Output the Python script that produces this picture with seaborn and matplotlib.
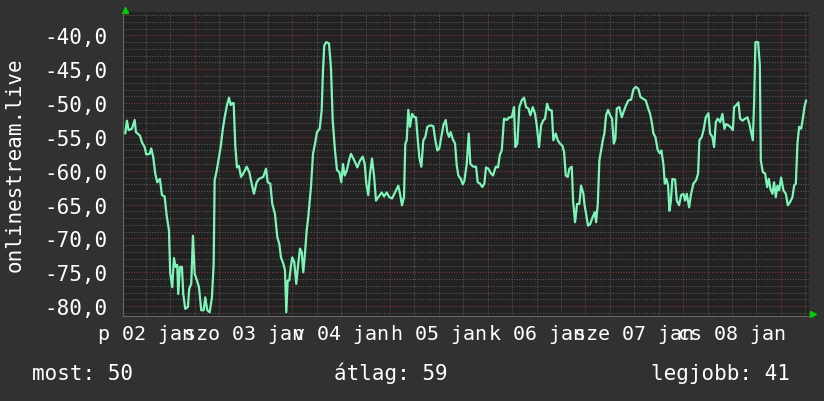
import numpy as np
import pandas as pd
import matplotlib
matplotlib.use("Agg")
import matplotlib.pyplot as plt
import seaborn as sns

# ---- data (hours since 00:00, Jan 02) ----
hours = [
    6.95, 7.37, 7.78, 8.59, 9.26, 9.58, 10.56, 11.05, 11.71, 12.11, 12.94, 13.34, 13.83, 14.32, 14.81,
    15.47, 15.97, 16.63, 17.12, 17.69, 18.00, 18.50, 18.91, 19.33, 19.72, 19.97, 20.39, 20.88, 21.20,
    21.69, 22.35, 22.67, 23.16, 23.58, 24.00, 24.57, 25.06, 25.62, 26.21, 26.60, 27.10, 27.69, 28.25,
    28.67, 28.91, 29.41, 29.97, 30.39, 30.88, 31.37, 31.94, 32.43, 32.85, 33.24, 33.58, 33.98, 34.39,
    34.88, 35.38, 35.94, 36.78, 37.42, 38.00, 38.57, 39.23, 39.80, 40.86, 41.52, 41.94, 42.58, 43.07,
    43.73, 44.30, 44.79, 45.20, 45.77, 46.19, 46.51, 46.85, 47.24, 47.66, 47.98, 48.47, 48.96, 49.45,
    49.87, 50.29, 50.68, 51.10, 51.52, 51.91, 52.57, 53.07, 53.56, 54.05, 54.71, 55.20, 55.52, 55.84,
    56.33, 57.00, 57.49, 57.91, 58.47, 58.96, 59.53, 60.02, 60.44, 60.86, 61.35, 61.91, 62.40, 62.82,
    63.39, 63.95, 64.61, 65.28, 65.77, 66.16, 66.65, 67.07, 67.56, 68.05, 68.55, 69.11, 69.95, 70.51,
    71.17, 71.81, 72.48, 73.21, 74.02, 74.44, 74.93, 75.42, 75.74, 76.09, 76.48, 76.90, 77.39, 77.96,
    78.37, 78.79, 79.18, 79.68, 80.17, 80.66, 81.15, 81.81, 82.62, 83.12, 83.61, 84.10, 84.59, 85.08,
    85.67, 86.06, 86.48, 86.90, 87.39, 87.96, 88.37, 88.77, 89.36, 89.85, 90.24, 90.83, 91.32, 91.72,
    92.45, 93.12, 93.53, 94.10, 94.66, 95.16, 95.57, 96.14, 96.80, 97.29, 97.96, 98.52, 98.94, 99.43,
    99.99, 100.66, 101.30, 101.89, 102.45, 102.77, 103.26, 103.75, 104.34, 104.91, 105.40, 105.97,
    106.46, 107.05, 107.61, 108.03, 108.59, 109.09, 109.58, 110.07, 110.56, 111.05, 111.71, 112.11,
    112.70, 113.19, 113.75, 114.32, 114.74, 115.15, 115.65, 116.04, 116.63, 116.95, 117.44, 117.93,
    118.50, 118.91, 119.48, 119.73, 120.14, 120.63, 121.13, 121.79, 122.28, 122.60, 123.02, 123.41,
    123.83, 124.25, 124.64, 125.06, 125.55, 126.04, 126.53, 126.95, 127.34, 127.69, 128.32, 128.91,
    129.48, 129.97, 130.54, 131.20, 131.76, 132.35, 132.99, 133.48, 134.22, 134.81, 135.30, 135.87,
    136.36, 136.68, 137.17, 137.76, 138.25, 138.64, 139.13, 139.48, 139.87, 140.29, 140.61, 140.95,
    141.35, 142.01, 142.43, 142.99, 143.48, 144.05, 144.47, 144.88, 145.45, 145.94, 146.51, 147.17,
    147.66, 147.98, 148.57, 149.06, 149.55, 150.19, 150.61, 151.17, 151.59, 152.01, 152.50, 153.07,
    153.63, 154.12, 154.54, 155.11, 155.70, 156.19, 156.51, 157.07, 157.56, 157.98, 158.55, 159.21,
    159.77, 160.27, 160.68, 161.10, 161.42, 161.74, 162.40, 162.82, 163.07, 163.56, 164.12, 164.61,
    165.03, 165.43, 165.92, 166.33, 166.75, 167.14, 167.56, 168.05, 168.62, 169.21, 169.70, 170.27,
    170.83, 171.25, 171.67, 172.06, 172.48, 172.97, 173.39, 173.78, 174.20,
]
values = [
    -54.5, -52.6, -54.0, -53.8, -52.5, -54.3, -54.8, -55.8, -56.5, -57.6, -57.5, -56.7, -58.0, -60.4, -61.7,
    -61.2, -63.6, -63.8, -66.6, -68.8, -75.2, -77.2, -72.9, -74.2, -73.9, -78.2, -74.2, -74.2, -78.2,
    -80.4, -80.1, -77.4, -76.7, -69.6, -75.2, -76.2, -77.2, -80.6, -80.6, -78.7, -80.6, -80.9, -78.7,
    -73.7, -61.4, -60.0, -58.0, -56.5, -54.0, -52.1, -50.3, -49.2, -50.3, -50.0, -50.0, -56.3, -59.5,
    -59.3, -60.9, -60.4, -59.4, -60.2, -61.9, -63.4, -61.7, -61.2, -60.9, -59.7, -61.7, -61.9, -64.9,
    -66.4, -69.8, -70.8, -72.8, -73.7, -74.7, -80.9, -76.2, -76.2, -74.0, -72.8, -73.5, -76.7, -73.7,
    -71.5, -72.0, -75.0, -72.2, -68.8, -66.8, -62.4, -57.5, -56.0, -54.3, -53.8, -51.1, -45.2, -41.5,
    -41.0, -41.2, -44.9, -52.6, -57.0, -59.9, -60.2, -61.7, -59.0, -60.7, -60.0, -58.5, -57.5, -58.0,
    -58.7, -59.5, -58.5, -57.9, -59.0, -61.9, -63.6, -60.4, -58.2, -60.7, -64.4, -63.9, -63.2, -63.8,
    -63.2, -63.9, -64.1, -63.2, -62.2, -63.4, -65.1, -63.9, -56.0, -55.5, -51.0, -53.5, -51.6, -52.1,
    -52.1, -55.3, -58.0, -59.4, -55.5, -55.0, -53.5, -53.3, -53.4, -55.5, -57.0, -56.7, -55.0, -53.3,
    -52.5, -54.3, -55.0, -54.3, -55.3, -56.0, -59.2, -60.7, -61.2, -62.0, -61.5, -59.0, -54.5, -59.0,
    -59.4, -59.4, -61.7, -61.9, -62.4, -61.9, -59.5, -59.7, -60.4, -60.7, -59.4, -59.5, -57.7, -57.0,
    -52.3, -52.5, -52.1, -52.1, -50.6, -56.5, -56.0, -50.6, -49.6, -49.2, -50.6, -50.8,
    -51.8, -50.6, -51.6, -53.3, -56.5, -53.3, -52.6, -52.3, -50.1, -51.0, -51.1, -55.5,
    -54.5, -55.5, -56.0, -56.3, -57.2, -60.7, -60.9, -59.7, -59.4, -64.4, -67.6, -64.9,
    -64.9, -62.2, -63.4, -64.9, -66.4, -68.1, -67.9, -66.8, -66.1, -67.6, -64.9, -58.5,
    -57.0, -55.5, -54.5, -51.8, -51.0, -51.8, -52.3, -56.0, -55.3, -50.8, -50.6, -52.1,
    -51.1, -50.3, -49.6, -49.5, -48.0, -47.6, -47.9, -49.1, -49.4, -49.6, -50.6, -51.6,
    -53.1, -54.5, -55.0, -57.0, -57.4, -57.0, -59.0, -61.9, -61.2, -62.2, -65.9, -64.6,
    -61.2, -61.3, -64.4, -65.1, -63.6, -63.4, -64.4, -63.4, -65.4, -63.4, -61.9, -61.4,
    -60.4, -55.5, -55.0, -53.8, -52.1, -51.5, -54.5, -55.0, -56.5, -52.8, -52.3, -52.8,
    -51.6, -53.8, -53.1, -53.3, -53.6, -54.0, -50.6, -50.3, -49.9, -52.3, -52.6, -52.3,
    -52.1, -53.1, -54.3, -55.5, -49.9, -41.0, -41.0, -44.4, -58.5, -60.2, -60.4, -62.4,
    -61.2, -62.7, -63.4, -61.7, -63.9, -62.2, -62.9, -61.0, -62.9, -63.4, -65.1, -64.6,
    -63.9, -62.2, -61.9, -56.0, -53.5, -53.8, -52.3, -50.6, -49.6,
]

day_label_hours = [12, 36, 60, 84, 108, 132, 156]
day_labels = ["p 02 jan", "szo 03 jan", "v 04 jan", "h 05 jan", "k 06 jan", "sze 07 jan", "cs 08 jan"]
y_ticks = [-80, -75, -70, -65, -60, -55, -50, -45, -40]
y_label = "onlinestream.live"
footer = ["most: 50", "átlag: 59", "legjobb: 41"]

# ---- style ----
BG = "#313131"
PLOT_BG = "#222222"
LINE = "#7DF5B9"
MINOR = "#5a5a5a"
MAJOR = "#8a3333"
ARROW = "#00D000"
MONO = "DejaVu Sans Mono"

sns.set_theme(style="dark")
plt.rcParams["font.family"] = [MONO, "DejaVu Sans"]

fig = plt.figure(figsize=(8.24, 4.02), dpi=100, facecolor=BG)
ax = fig.add_axes([123 / 824, 1 - 317 / 402, (809 - 123) / 824, (317 - 13) / 402])
ax.set_facecolor(PLOT_BG)

xmin, xmax = 6.4, 174.9
ymin, ymax = -81.45, -36.55

# grid
dot = (0, (1, 1.5))
for h in np.arange(6, 180, 6):
    if xmin < h < xmax:
        ax.axvline(h, color=MAJOR if h % 24 == 0 else MINOR, lw=0.75, ls=dot, zorder=1)
for v in np.arange(-81, -36, 1):
    ax.axhline(v, color=MAJOR if v % 5 == 0 else MINOR, lw=0.75, ls=dot, zorder=1)

df = pd.DataFrame({"hour": hours, "value": values})
sns.lineplot(data=df, x="hour", y="value", ax=ax, color=LINE, lw=1.6,
             estimator=None, sort=False, zorder=3)

ax.set_xlim(xmin, xmax)
ax.set_ylim(ymin, ymax)

ax.set_xticks(day_label_hours)
ax.set_xticklabels(day_labels)
ax.set_yticks(y_ticks)
ax.set_yticklabels([f"{t:.1f}".replace(".", ",") for t in y_ticks])
ax.tick_params(axis="x", length=0, pad=5.5, labelsize=14.4, colors="white")
ax.tick_params(axis="y", length=2, width=0.8, color="#777777", pad=9.5,
               labelsize=15, labelcolor="white")
ax.set_xlabel("")
ax.set_ylabel("")

for s in ["top", "right"]:
    ax.spines[s].set_visible(False)
for s in ["left", "bottom"]:
    ax.spines[s].set_visible(True)
    ax.spines[s].set_color("#666666")
    ax.spines[s].set_linewidth(0.8)

# rrdtool style arrows
ax.plot([0.003], [1.008], marker="^", ms=5, color=ARROW, transform=ax.transAxes, clip_on=False)
ax.plot([1.006], [0.007], marker=">", ms=5, color=ARROW, transform=ax.transAxes, clip_on=False)

fig.text(14.5 / 824, 1 - 165 / 402, y_label, rotation=90, ha="center", va="center",
         fontsize=15, color="white")

for xpix, txt in zip([32, 334, 651], footer):
    fig.text(xpix / 824, 1 - 380 / 402, txt, ha="left", va="baseline",
             fontsize=15, color="white")

fig.savefig("out.png", dpi=100, facecolor=BG)
